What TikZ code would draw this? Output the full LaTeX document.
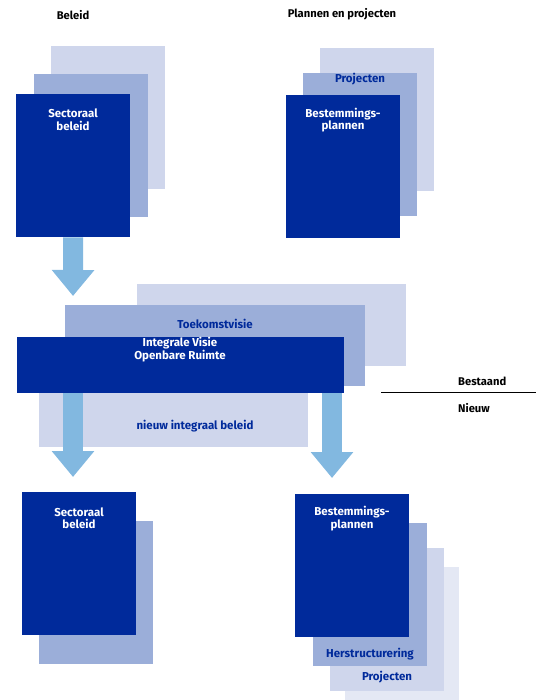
\documentclass[tikz,border=0pt]{standalone}
\usepackage{fontspec}
\setmainfont{Fira Sans}
\usetikzlibrary{arrows.meta,positioning}

\definecolor{donkerblauw}{RGB}{0,42,155}
\definecolor{middenblauw}{RGB}{155,174,217}
\definecolor{lichtblauw}{RGB}{207,214,236}
\definecolor{bleekblauw}{RGB}{228,232,244}
\definecolor{pijlblauw}{RGB}{130,184,224}

\begin{document}
\begin{tikzpicture}[x=1pt, y=-1pt,
  vel/.style={anchor=north west, inner sep=0pt, minimum width=114pt, minimum height=143pt},
  donker/.style={fill=donkerblauw},
  midden/.style={fill=middenblauw},
  licht/.style={fill=lichtblauw},
  bleek/.style={fill=bleekblauw},
  wittekst/.style={text=white, font=\fontsize{11.5}{12.5}\selectfont\bfseries, align=center, inner sep=0pt},
  blauwtekst/.style={text=donkerblauw, font=\fontsize{11.5}{12.5}\selectfont\bfseries, align=center, inner sep=0pt},
  kop/.style={text=black, font=\fontsize{11.2}{13}\selectfont\bfseries, inner sep=0pt},
  pijl/.style={draw=pijlblauw, line width=20pt, -{Triangle[length=26pt, width=41pt]}}]
\useasboundingbox (0,0) rectangle (536,700);

% Koppen
\node[kop] (kopbeleid) at (73,15) {Beleid};
\node[kop] (kopplannen) at (342,14) {Plannen en projecten};

% Bestaand: sectoraal beleid
\node[vel, licht] (sb3) at (51,46) {};
\node[vel, midden] (sb2) at (34,74) {};
\node[vel, donker] (sb1) at (16,94) {};
\node[wittekst] (sbtekst) at (73,119.5) {Sectoraal\\beleid};

% Bestaand: bestemmingsplannen en projecten
\node[vel, licht] (bp3) at (320,48) {};
\node[vel, midden] (bp2) at (303,73) {};
\node[blauwtekst] (bpproj) at (360,79) {Projecten};
\node[vel, donker] (bp1) at (286,95) {};
\node[wittekst] (bptekst) at (343,120) {Bestemmings-\\plannen};

% Pijl naar de visie
\coordinate (pijl1) at (73,296);
\draw[pijl] (sb1.south) -- (pijl1);

% Integrale visie
\node[licht, anchor=north west, inner sep=0pt, minimum width=269pt, minimum height=82pt] (tv2) at (137,284) {};
\node[midden, anchor=north west, inner sep=0pt, minimum width=300pt, minimum height=81pt] (tv1) at (65,305) {};
\node[blauwtekst] (tvtekst) at (215,324) {Toekomstvisie};
\node[licht, anchor=north west, inner sep=0pt, minimum width=269pt, minimum height=54pt] (nib) at (39,393) {};
\node[blauwtekst] (nibtekst) at (195,426) {nieuw integraal beleid};
\node[donker, anchor=north west, inner sep=0pt, minimum width=327pt, minimum height=56pt] (iv) at (17,337) {};
\node[wittekst] (ivtekst) at (180,349.5) {Integrale Visie\\Openbare Ruimte};

% Pijlen naar nieuw
\coordinate (pijl2) at (73,477);
\coordinate (pijl3) at (332,478);
\draw[pijl] (iv.south -| pijl2) -- (pijl2);
\draw[pijl] (iv.south -| pijl3) -- (pijl3);

% Bestaand / Nieuw
\coordinate (lijnlinks) at (381,392);
\coordinate (lijnrechts) at (536,392);
\draw[line width=1pt] (lijnlinks) -- (lijnrechts);
\node[kop, anchor=west] (bestaand) at (458,381) {Bestaand};
\node[kop, anchor=west] (nieuw) at (458,408) {Nieuw};

% Nieuw: sectoraal beleid
\node[vel, midden] (nsb2) at (39,521) {};
\node[vel, donker] (nsb1) at (22,492) {};
\node[wittekst] (nsbtekst) at (79,518) {Sectoraal\\beleid};

% Nieuw: bestemmingsplannen, herstructurering, projecten
\node[vel, bleek] (nbp4) at (345,567) {};
\node[vel, licht] (nbp3) at (330,548) {};
\node[blauwtekst] (nbpproj) at (387,677) {Projecten};
\node[vel, midden] (nbp2) at (313,523) {};
\node[blauwtekst] (nbpherst) at (370,654) {Herstructurering};
\node[vel, donker] (nbp1) at (295,494) {};
\node[wittekst] (nbptekst) at (352,518.5) {Bestemmings-\\plannen};
\end{tikzpicture}
\end{document}
